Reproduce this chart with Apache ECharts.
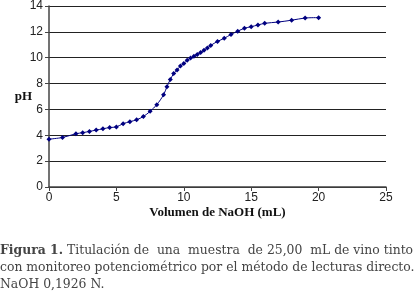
<!DOCTYPE html>
<html>
<head>
<meta charset="utf-8">
<script src="https://cdn.jsdelivr.net/npm/echarts@6/dist/echarts.min.js"></script>
<style>
  html, body { margin: 0; padding: 0; background: #fff; }
  #chart { width: 415px; height: 301px; }
</style>
</head>
<body>
<div id="chart"></div>
<script>
// volumen de NaOH (mL) y pH
let volumen = [0, 1, 2, 2.5, 3, 3.5, 4, 4.5, 5, 5.5, 6, 6.5, 7, 7.5, 8, 8.5, 8.75, 9, 9.25, 9.5,
    9.75, 10, 10.25, 10.5, 10.75, 11, 11.25, 11.5, 11.75, 12, 12.5, 13, 13.5, 14, 14.5, 15, 15.5, 16, 17, 18, 19, 20];
let ph = [3.7, 3.83, 4.12, 4.2, 4.3, 4.4, 4.5, 4.6, 4.65, 4.9, 5.05, 5.2, 5.45, 5.85, 6.37, 7.13, 7.76, 8.32, 8.77, 9.05,
    9.35, 9.55, 9.8, 9.97, 10.12, 10.25, 10.4, 10.57, 10.75, 10.95, 11.26, 11.5, 11.8, 12.05, 12.28, 12.4, 12.53, 12.66, 12.76, 12.9, 13.07, 13.1];

let captionLines = [
    ['Figura 1.', ' Titulación de  una  muestra  de 25,00  mL de vino tinto'],
    ['', 'con monitoreo potenciométrico por el método de lecturas directo.'],
    ['', 'NaOH 0,1926 N.']
];

let puntos = volumen.map((v, i) => [v, ph[i]]);

let axisLabelStyle = {
    color: '#222',
    fontFamily: 'Liberation Sans, Arial',
    fontSize: 12
};

let chart = echarts.init(document.getElementById('chart'));

let graphics = captionLines.map((ln, i) => ({
    type: 'text',
    left: 0,
    top: 245 + i * 17,
    style: {
        text: (ln[0] ? '{b|' + ln[0] + '}' : '') + '{n|' + ln[1] + '}',
        rich: {
            b: { fontFamily: 'DejaVu Serif', fontSize: 12.4, fontWeight: 'bold', fill: '#444' },
            n: { fontFamily: 'DejaVu Serif', fontSize: 12.4, fill: '#444' }
        }
    }
}));

chart.setOption({
    animation: false,
    grid: {
        left: 49,
        right: 29,
        top: 3,
        bottom: 114
    },
    xAxis: {
        type: 'value',
        min: 0,
        max: 25,
        interval: 5,
        name: 'Volumen de NaOH (mL)',
        nameLocation: 'middle',
        nameGap: 19,
        nameMoveOverlap: false,
        nameTextStyle: {
            fontFamily: 'Liberation Serif, Times New Roman',
            fontWeight: 'bold',
            fontSize: 13,
            color: '#111'
        },
        axisLine: { lineStyle: { color: '#444', width: 1.5 } },
        axisTick: { show: true, length: 4, lineStyle: { color: '#444' } },
        axisLabel: Object.assign({ margin: 5 }, axisLabelStyle),
        splitLine: { show: false }
    },
    yAxis: {
        type: 'value',
        min: 0,
        max: 14,
        interval: 2,
        name: 'pH',
        nameLocation: 'middle',
        nameGap: 17,
        nameRotate: 0,
        nameMoveOverlap: false,
        nameTextStyle: {
            fontFamily: 'Liberation Serif, Times New Roman',
            fontWeight: 'bold',
            fontSize: 13,
            color: '#111'
        },
        axisLine: { show: true, lineStyle: { color: '#444', width: 1.5 } },
        axisTick: { show: true, length: 4, lineStyle: { color: '#444' } },
        axisLabel: Object.assign({ margin: 6 }, axisLabelStyle),
        splitLine: { show: true, lineStyle: { color: '#222', width: 1 } }
    },
    series: [{
        type: 'line',
        data: puntos,
        smooth: 0.3,
        symbol: 'diamond',
        symbolSize: 5,
        lineStyle: { color: '#000080', width: 1 },
        itemStyle: { color: '#000080' }
    }],
    graphic: graphics
});
</script>
</body>
</html>
